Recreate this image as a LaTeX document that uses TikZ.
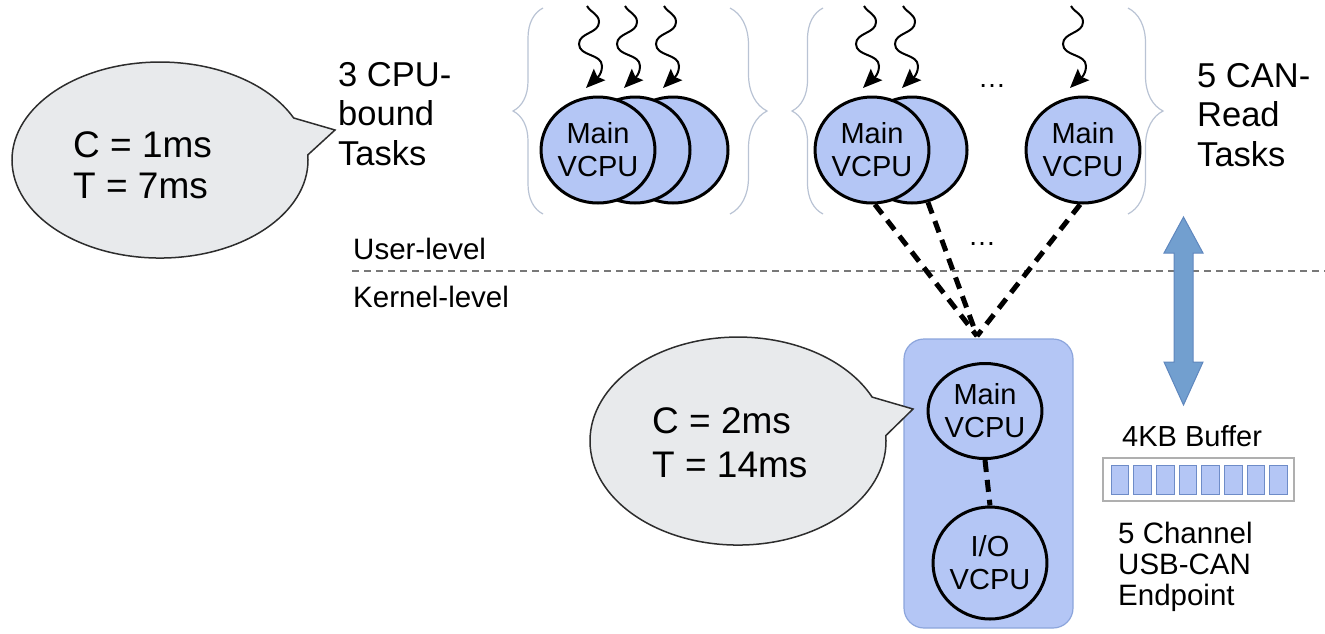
\documentclass[tikz,border=0pt]{standalone}
\usepackage{fontspec}
\setmainfont{Liberation Sans}
\usetikzlibrary{arrows.meta,shapes.geometric,decorations.pathreplacing,calc}

\definecolor{vcpublue}{RGB}{180,198,245}
\definecolor{boxedge}{RGB}{140,165,220}
\definecolor{celledge}{RGB}{110,140,200}
\definecolor{bubblefill}{RGB}{232,234,236}
\definecolor{bubbleedge}{RGB}{45,45,45}
\definecolor{bracegray}{RGB}{185,195,212}
\definecolor{sepgray}{RGB}{120,120,120}
\definecolor{arrowblue}{RGB}{114,159,207}
\definecolor{arrowedge}{RGB}{95,135,190}
\definecolor{buffedge}{RGB}{175,175,175}

\newcommand\setfs[2]{\fontsize{#1}{#2}\selectfont}
% a wavy job arrow whose tip sits at (#1,88); drawn with the y axis pointing up
\newcommand\jobarrow[1]{%
  \begin{scope}[y=1pt]
  \draw[squig] (#1+1,-6) to[out=-60,in=90] (#1+13,-22) to[out=-90,in=90] (#1-7,-44)
    to[out=-90,in=90] (#1+16,-66) to[out=-90,in=45] (#1,-88);
  \end{scope}}

\begin{document}
\begin{tikzpicture}[x=1pt,y=-1pt,
  vcpu/.style={ellipse, draw=black, line width=3pt, fill=vcpublue, inner sep=0pt,
    minimum width=110pt, minimum height=106pt, align=center, font=\setfs{29}{33}},
  link/.style={line width=5pt, dash pattern=on 12pt off 8pt},
  squig/.style={line width=2pt, -{Stealth[length=19pt,width=16pt,inset=3pt]}},
  grpbrace/.style={decorate, decoration={brace, amplitude=#1}, draw=bracegray, line width=1.2pt},
  bubble/.style={fill=bubblefill, draw=bubbleedge, line width=1.5pt},
  bubtext/.style={anchor=north west, align=left, inner sep=0pt, font=\setfs{37}{41}},
  label/.style={anchor=north west, align=left, inner sep=0pt, font=\setfs{34.5}{39.5}},
  small/.style={anchor=north west, align=left, inner sep=0pt, font=\setfs{29.5}{48}},
  cell/.style={draw=celledge, fill=vcpublue, line width=1pt},
  dots/.style={inner sep=0pt, font=\setfs{28}{30}}]
\useasboundingbox (0,0) rectangle (1325,633);

% ---------- user / kernel separator ----------
\draw[sepgray, line width=2pt, dash pattern=on 7pt off 5pt] (352,271) -- (1325,271);
\node[small] (user) at (353,238) {User-level};
\node[small] (kernel) at (353,286) {Kernel-level};

% ---------- CPU-bound group ----------
\draw[grpbrace=30pt] (543,214) -- (543,8);
\draw[grpbrace=37pt] (730,8) -- (730,214);
\node[vcpu] (a3) at (673,150) {};
\node[vcpu] (a2) at (635,150) {};
\node[vcpu] (a1) at (598,150) {Main\\VCPU};
\jobarrow{586}\jobarrow{624}\jobarrow{663}
\node[label] (cpulbl) at (338,62) {3 CPU-\\bound\\Tasks};

% ---------- CAN-read group ----------
\draw[grpbrace=31pt] (823,214) -- (823,8);
\draw[grpbrace=35pt] (1128,8) -- (1128,214);
\node[vcpu] (b2) at (912,150) {};
\node[vcpu] (b1) at (872,150) {Main\\VCPU};
\node[vcpu] (b5) at (1083,150) {Main\\VCPU};
\jobarrow{863}\jobarrow{902}\jobarrow{1070}
\node[dots] (topdots) at (992,86) {…};
\node[label] (canlbl) at (1197,63) {5 CAN-\\Read\\Tasks};

% ---------- virtual machine box ----------
\node[draw=boxedge, fill=vcpublue, line width=1.2pt, rounded corners=20pt,
  minimum width=169pt, minimum height=289pt, inner sep=0pt] (vm) at (988.5,483.5) {};
\node[vcpu, minimum height=95pt] (vmain) at (985,411) {Main\\VCPU};
\node[vcpu, minimum height=112pt] (vio) at (990,563) {I/O\\VCPU};
\draw[link] (vmain.south) -- (vio.north);

% dashed links from the CAN-read VCPUs down to the VM
\coordinate (join) at (977,336);
\draw[link] (b1.-87) -- (join);
\draw[link] (b2.-73) -- (join);
\draw[link] (b5.-93) -- (join);
\node[dots] (middots) at (982,244) {…};

% ---------- speech bubbles ----------
\draw[bubble] (307.8,154.9) arc[start angle=-3, end angle=334.6, x radius=148, y radius=98]
  -- (335,130) -- cycle;
\node[bubtext] (cpubub) at (73,131) {C = 1ms\\T = 7ms};

\draw[bubble] (885.8,435.6) arc[start angle=-3, end angle=335, x radius=148, y radius=104]
  -- (913,409) -- cycle;
\node[bubtext, font=\setfs{37}{44}] (vmbub) at (652,407) {C = 2ms\\T = 14ms};

% ---------- user/kernel data path ----------
\draw[fill=arrowblue, draw=arrowedge, line width=1pt]
  (1183.5,217) -- (1203,253) -- (1193,253) -- (1193,362) -- (1203,362) -- (1183.5,405)
  -- (1164,362) -- (1174,362) -- (1174,253) -- (1164,253) -- cycle;

% ---------- USB-CAN buffer ----------
\node[anchor=base west, inner sep=0pt, font=\setfs{29}{30}] (buflbl) at (1122,446) {4KB Buffer};
\node[draw=buffedge, line width=1.2pt, minimum width=191pt, minimum height=43pt, inner sep=0pt]
  (buf) at (1198.5,479.5) {};
\foreach \i in {0,...,7}
  \draw[cell] (1111+22.7*\i,465) rectangle ++(17.7,29);
\node[anchor=north west, align=left, inner sep=0pt, font=\setfs{29.5}{31}] (devlbl) at (1118,522)
  {5 Channel\\USB-CAN\\Endpoint};
\end{tikzpicture}
\end{document}
